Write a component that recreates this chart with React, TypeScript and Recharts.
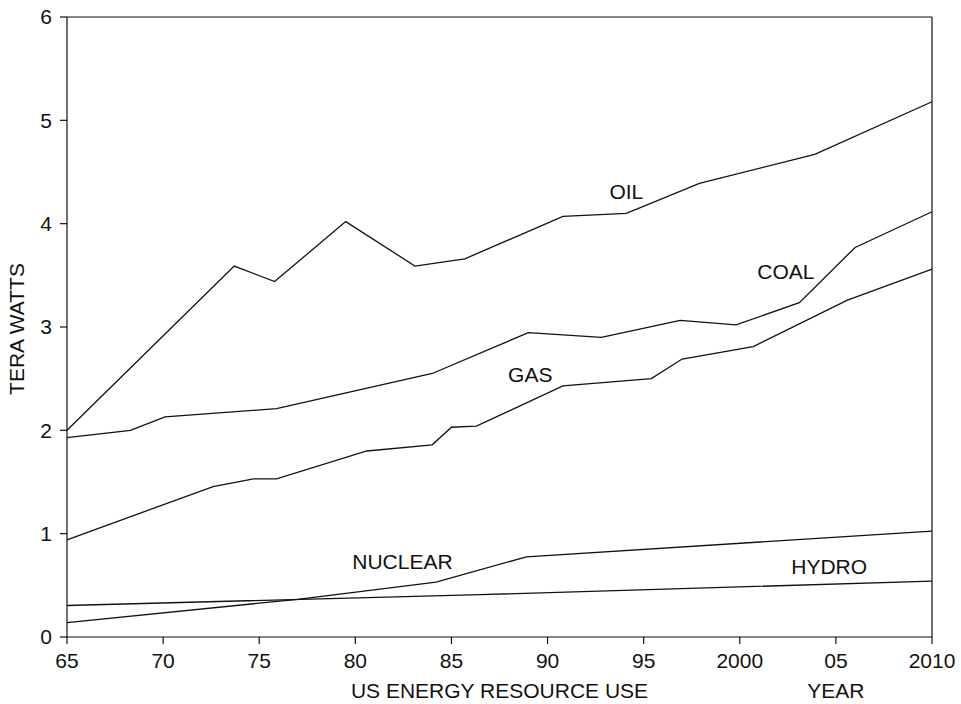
import { LineChart, Line, XAxis, YAxis, ReferenceLine, ReferenceDot } from "recharts";

// years are counted from 1900 (65 = 1965, 110 = 2010)
const oilYears = [65, 73.7, 75.8, 79.5, 83.1, 85.7, 90.8, 94.1, 97.9, 103.9, 110];
const oilValues = [2.0, 3.59, 3.44, 4.02, 3.59, 3.66, 4.07, 4.1, 4.39, 4.67, 5.18];

const coalYears = [65, 68.3, 70.1, 75.9, 84.0, 89.0, 92.8, 96.9, 99.8, 103.1, 106.0, 110];
const coalValues = [1.93, 2.0, 2.13, 2.21, 2.55, 2.945, 2.9, 3.065, 3.02, 3.235, 3.77, 4.115];

const gasYears = [65, 72.6, 74.7, 75.9, 80.6, 84.0, 85.0, 86.3, 90.8, 95.4, 97.0, 100.7, 105.6, 110];
const gasValues = [0.94, 1.456, 1.53, 1.53, 1.8, 1.86, 2.03, 2.04, 2.43, 2.5, 2.69, 2.81, 3.26, 3.56];

const nuclearYears = [65, 77, 84.2, 88.9, 110];
const nuclearValues = [0.14, 0.365, 0.532, 0.776, 1.025];

const hydroYears = [65, 86.5, 110];
const hydroValues = [0.305, 0.41, 0.54];

const xTicks = [65, 70, 75, 80, 85, 90, 95, 100, 105, 110];
const xTickLabels = ["65", "70", "75", "80", "85", "90", "95", "2000", "05", "2010"];
const yTicks = [0, 1, 2, 3, 4, 5, 6];

// series labels placed in data space
const seriesLabels = [
  { text: "OIL", year: 94.1, value: 4.31 },
  { text: "COAL", year: 102.4, value: 3.54 },
  { text: "GAS", year: 89.1, value: 2.54 },
  { text: "NUCLEAR", year: 82.45, value: 0.73 },
  { text: "HYDRO", year: 104.65, value: 0.686 },
];

const toData = (years: number[], values: number[]) =>
  years.map((year, i) => ({ year, v: values[i] }));

const series = [
  toData(oilYears, oilValues),
  toData(coalYears, coalValues),
  toData(gasYears, gasValues),
  toData(nuclearYears, nuclearValues),
  toData(hydroYears, hydroValues),
];

const FONT = "'Liberation Sans', Arial, Helvetica, sans-serif";
const INK = "#111";
const FS = 21;

export default function App() {
  return (
    <div style={{ position: "absolute", left: 0, top: 0, background: "#fff" }}>
      <LineChart
        width={961}
        height={704}
        margin={{ top: 17, right: 29, left: 7, bottom: 27 }}
        style={{ fontFamily: FONT }}
      >
        <XAxis
          dataKey="year"
          type="number"
          domain={[65, 110]}
          ticks={xTicks}
          tickFormatter={(v: number) => xTickLabels[xTicks.indexOf(v)] ?? String(v)}
          height={40}
          tickSize={7}
          tickMargin={9}
          stroke={INK}
          strokeWidth={1.2}
          tick={{ fill: INK, fontSize: FS, fontFamily: FONT }}
          label={{
            content: (props: any) => {
              const vb = props.viewBox || { x: 67, y: 637, width: 864 };
              const px = (yr: number) => vb.x + ((yr - 65) / 45) * vb.width;
              return (
                <g>
                  <text x={px(87.5)} y={vb.y + 61} textAnchor="middle" fontSize={FS} fill={INK} fontFamily={FONT}>
                    US ENERGY RESOURCE USE
                  </text>
                  <text x={px(105)} y={vb.y + 61} textAnchor="middle" fontSize={FS} fill={INK} fontFamily={FONT}>
                    YEAR
                  </text>
                </g>
              );
            },
          }}
        />
        <YAxis
          type="number"
          domain={[0, 6]}
          ticks={yTicks}
          width={60}
          tickSize={7}
          tickMargin={8}
          stroke={INK}
          strokeWidth={1.2}
          tick={{ fill: INK, fontSize: FS, fontFamily: FONT }}
          label={{
            content: (props: any) => {
              const vb = props.viewBox || { x: 7, y: 17, width: 60, height: 620 };
              const cx = vb.x + 9.5;
              const cy = vb.y + vb.height / 2 + 2;
              return (
                <text
                  x={cx}
                  y={cy}
                  transform={`rotate(-90 ${cx} ${cy})`}
                  textAnchor="middle"
                  dominantBaseline="central"
                  fontSize={FS}
                  fill={INK}
                  fontFamily={FONT}
                >
                  TERA WATTS
                </text>
              );
            },
          }}
        />
        <ReferenceLine y={6} stroke={INK} strokeWidth={1.2} />
        <ReferenceLine x={110} stroke={INK} strokeWidth={1.2} />
        {series.map((d, i) => (
          <Line
            key={i}
            data={d}
            dataKey="v"
            type="linear"
            stroke={INK}
            strokeWidth={1.3}
            dot={false}
            activeDot={false}
            isAnimationActive={false}
          />
        ))}
        {seriesLabels.map((l) => (
          <ReferenceDot
            key={l.text}
            x={l.year}
            y={l.value}
            r={0}
            shape={(p: any) => (
              <text
                x={p.cx}
                y={p.cy}
                textAnchor="middle"
                dominantBaseline="central"
                fontSize={FS}
                fill={INK}
                fontFamily={FONT}
              >
                {l.text}
              </text>
            )}
          />
        ))}
      </LineChart>
    </div>
  );
}
